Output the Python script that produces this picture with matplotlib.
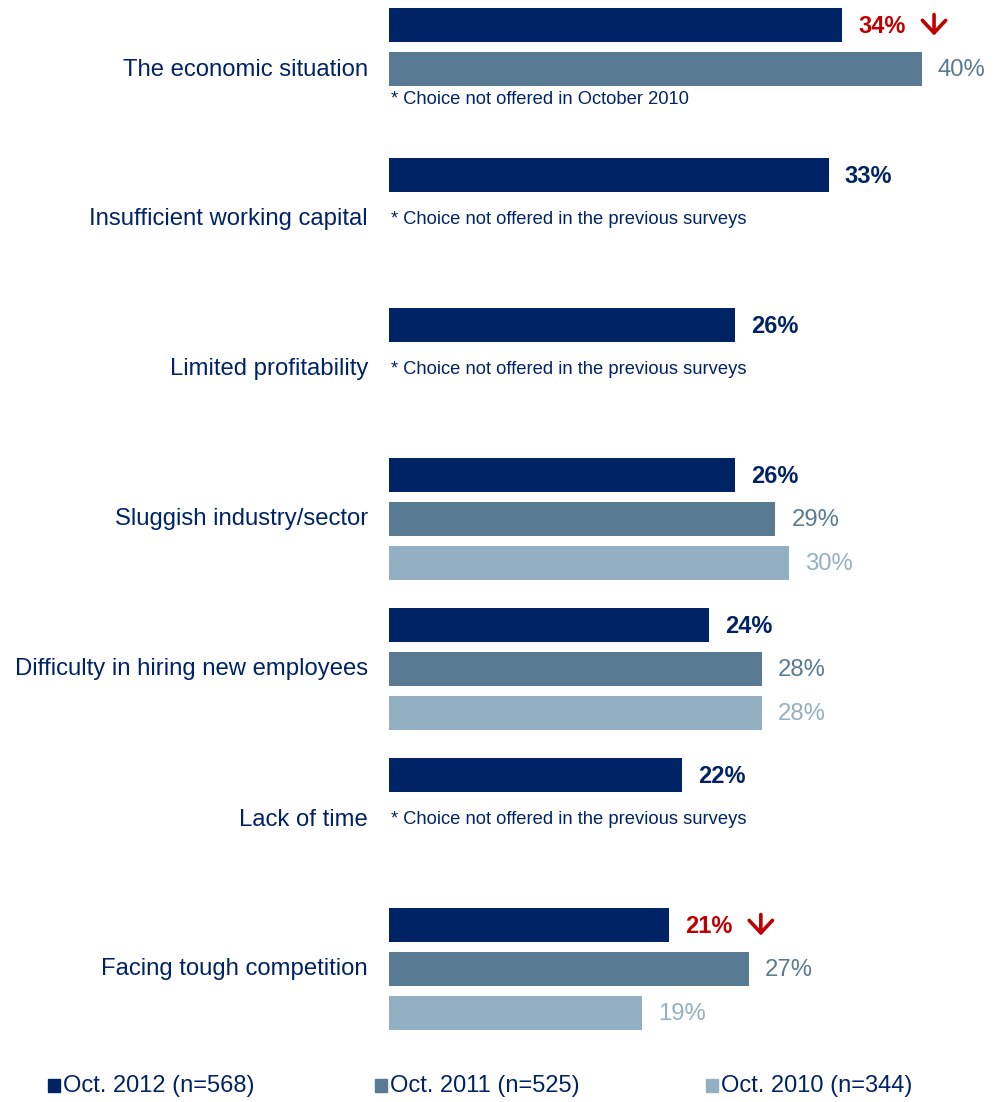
import matplotlib.pyplot as plt
from matplotlib.patches import Rectangle

# ----- data -------------------------------------------------------------------

categories = [
    "The economic situation",
    "Insufficient working capital",
    "Limited profitability",
    "Sluggish industry/sector",
    "Difficulty in hiring new employees",
    "Lack of time",
    "Facing tough competition",
]
oct_2012 = [34, 33, 26, 26, 24, 22, 21]
oct_2011 = [40, None, None, 29, 28, None, 27]
oct_2010 = [None, None, None, 30, 28, None, 19]
declined = [True, False, False, False, False, False, True]
notes = [
    "* Choice not offered in October 2010",
    "* Choice not offered in the previous surveys",
    "* Choice not offered in the previous surveys",
    None,
    None,
    "* Choice not offered in the previous surveys",
    None,
]
series_labels = ["Oct. 2012 (n=568)", "Oct. 2011 (n=525)", "Oct. 2010 (n=344)"]

# ----- style --------------------------------------------------------------------

NAVY = "#002366"
MID = "#587a93"
LIGHT = "#93b0c2"
RED = "#c00000"
colors = [NAVY, MID, LIGHT]

plt.rcParams["font.family"] = ["Liberation Sans", "DejaVu Sans"]

W, H = 997, 1102
fig = plt.figure(figsize=(W / 100, H / 100), dpi=100)

# x in percent, y in pixels from the top; bars start at x=389 px
PX_PER_PCT = 13.325
x0 = 389
ax = fig.add_axes([x0 / W, 0, (W - x0) / W, 1])
ax.set_xlim(0, (W - x0) / PX_PER_PCT)
ax.set_ylim(H, 0)
ax.axis("off")

GROUP_STEP = 150
SLOT_STEP = 44
FIRST = 24.5
BAR_H = 34
GAP = 16 / PX_PER_PCT

for g, cat in enumerate(categories):
    vals = [oct_2012[g], oct_2011[g], oct_2010[g]]
    base = FIRST + GROUP_STEP * g
    for s, v in enumerate(vals):
        if v is None:
            continue
        y = base + SLOT_STEP * s
        ax.barh(y, v, height=BAR_H, color=colors[s], edgecolor="none")
        label = f"{v}%"
        if s == 0:
            tcol = RED if declined[g] else NAVY
            ax.text(v + GAP, y + 2, label, color=tcol, fontsize=17,
                    fontweight="bold", va="center", ha="left")
            if declined[g]:
                # red "down" marker after the label
                arr_x = v + 92 / PX_PER_PCT
                ax.annotate("", xy=(arr_x, y + 11), xytext=(arr_x, y - 10),
                            arrowprops=dict(arrowstyle="->,head_length=0.45,head_width=0.42",
                                            color=RED, lw=2.6, mutation_scale=20,
                                            shrinkA=0, shrinkB=0))
        else:
            ax.text(v + GAP, y + 2, label, color=colors[s],
                    fontsize=17.2, va="center", ha="left")

    # category label next to the middle slot
    fig.text(368 / W, 1 - (base + SLOT_STEP + 1) / H, cat, color=NAVY,
             fontsize=17.2, ha="right", va="center")

    if notes[g]:
        n_filled = sum(v is not None for v in vals)
        ny = base + SLOT_STEP * n_filled
        if n_filled == 2:
            ny -= 14
        ax.text(2 / PX_PER_PCT, ny + 1, notes[g], color=NAVY, fontsize=13.2,
                va="center", ha="left")

# legend row along the bottom
for s, (lab, lx) in enumerate(zip(series_labels, [48, 375, 706])):
    fig.patches.append(Rectangle((lx / W, 1 - 1092 / H), 12 / W, 13 / H,
                                 transform=fig.transFigure, color=colors[s]))
    fig.text((lx + 15) / W, 1 - 1086 / H, lab, color=NAVY, fontsize=17,
             ha="left", va="center")

fig.savefig("out.png", dpi=100)
